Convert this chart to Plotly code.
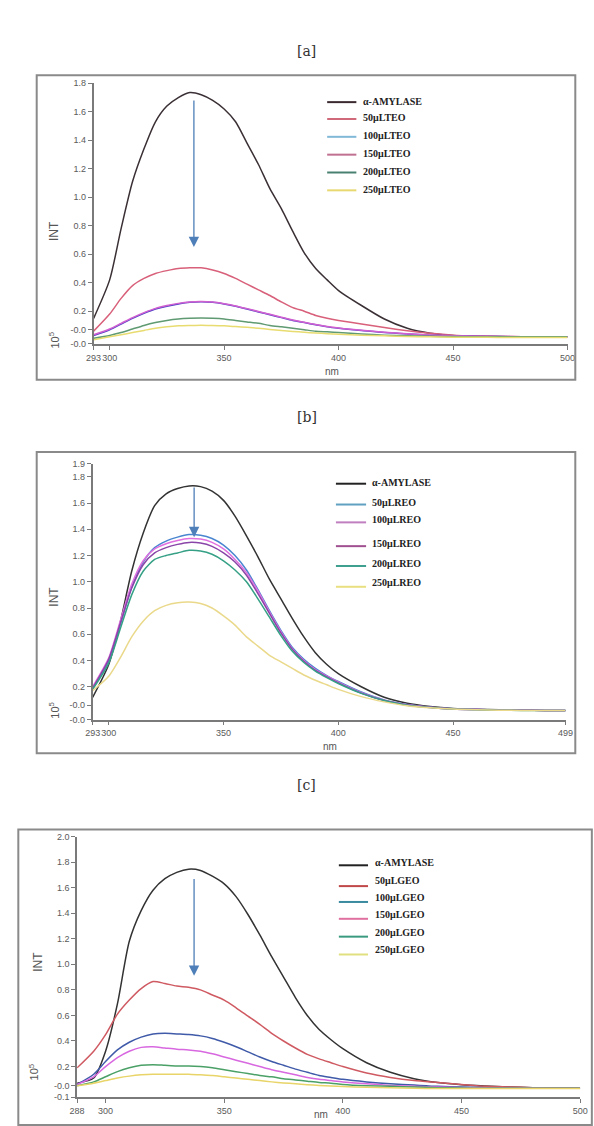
import plotly.graph_objects as go

W, H = 594, 1126

# ---- data: fluorescence emission spectra (INT x10^5 vs wavelength, nm) ----
WL_A = [293, 300, 305, 310, 315, 320, 325, 330, 335, 340, 345, 350, 355, 360, 365, 370,
        375, 380, 385, 390, 395, 400, 410, 420, 430, 440, 450, 460, 470, 480, 490, 500]
AMY_A = [0.15, 0.42, 0.78, 1.11, 1.34, 1.53, 1.64, 1.70, 1.735, 1.72, 1.68, 1.62, 1.53, 1.38, 1.23, 1.06,
         0.92, 0.76, 0.61, 0.50, 0.42, 0.345, 0.24, 0.145, 0.08, 0.045, 0.03, 0.025, 0.022, 0.02, 0.02, 0.02]
TEO_50 = [0.06, 0.18, 0.29, 0.38, 0.43, 0.465, 0.485, 0.50, 0.505, 0.505, 0.49, 0.465, 0.43, 0.39, 0.35, 0.31,
          0.265, 0.225, 0.20, 0.17, 0.15, 0.135, 0.11, 0.085, 0.063, 0.045, 0.032, 0.026, 0.023, 0.021, 0.02, 0.02]
TEO_100 = [0.03, 0.07, 0.11, 0.15, 0.185, 0.215, 0.235, 0.25, 0.262, 0.266, 0.262, 0.25, 0.235, 0.215, 0.195, 0.175,
           0.155, 0.135, 0.12, 0.105, 0.09, 0.08, 0.065, 0.05, 0.04, 0.032, 0.028, 0.024, 0.022, 0.021, 0.02, 0.02]
TEO_150 = [0.035, 0.075, 0.115, 0.155, 0.19, 0.22, 0.24, 0.255, 0.265, 0.268, 0.264, 0.252, 0.237, 0.218, 0.198, 0.178,
           0.158, 0.138, 0.122, 0.107, 0.093, 0.082, 0.066, 0.052, 0.041, 0.033, 0.028, 0.025, 0.023, 0.021, 0.02, 0.02]
TEO_200 = [0.01, 0.03, 0.05, 0.075, 0.10, 0.12, 0.135, 0.145, 0.15, 0.152, 0.15, 0.145, 0.135, 0.125, 0.115, 0.10,
           0.09, 0.08, 0.07, 0.06, 0.055, 0.05, 0.04, 0.032, 0.027, 0.024, 0.022, 0.02, 0.02, 0.02, 0.02, 0.02]
TEO_250 = [0.0, 0.02, 0.035, 0.05, 0.065, 0.08, 0.09, 0.097, 0.10, 0.102, 0.10, 0.097, 0.092, 0.087, 0.08, 0.072,
           0.065, 0.058, 0.052, 0.047, 0.042, 0.038, 0.032, 0.027, 0.023, 0.02, 0.018, 0.017, 0.016, 0.016, 0.016, 0.016]

WL_B = [293, 300, 305, 310, 315, 320, 325, 330, 335, 340, 345, 350, 355, 360, 365, 370,
        375, 380, 385, 390, 395, 400, 410, 420, 430, 440, 450, 460, 470, 480, 490, 499]
AMY_B = [0.12, 0.37, 0.69, 1.08, 1.37, 1.58, 1.67, 1.71, 1.73, 1.725, 1.69, 1.62, 1.50, 1.35, 1.19, 1.02,
         0.87, 0.72, 0.58, 0.46, 0.37, 0.30, 0.20, 0.12, 0.075, 0.05, 0.035, 0.028, 0.025, 0.022, 0.02, 0.02]
REO_50 = [0.19, 0.40, 0.67, 0.96, 1.15, 1.26, 1.31, 1.34, 1.36, 1.355, 1.33, 1.28, 1.20, 1.09, 0.94, 0.78,
          0.63, 0.50, 0.41, 0.34, 0.285, 0.24, 0.16, 0.10, 0.065, 0.045, 0.032, 0.027, 0.024, 0.022, 0.02, 0.02]
REO_100 = [0.20, 0.42, 0.70, 0.98, 1.16, 1.25, 1.29, 1.315, 1.33, 1.325, 1.30, 1.25, 1.17, 1.07, 0.93, 0.77,
           0.62, 0.49, 0.40, 0.33, 0.28, 0.235, 0.155, 0.098, 0.063, 0.044, 0.031, 0.026, 0.023, 0.021, 0.02, 0.02]
REO_150 = [0.19, 0.41, 0.68, 0.95, 1.13, 1.22, 1.26, 1.285, 1.30, 1.295, 1.27, 1.22, 1.15, 1.05, 0.91, 0.76,
           0.61, 0.485, 0.395, 0.325, 0.275, 0.23, 0.152, 0.096, 0.062, 0.043, 0.031, 0.026, 0.023, 0.021, 0.02, 0.02]
REO_200 = [0.18, 0.38, 0.64, 0.90, 1.08, 1.17, 1.20, 1.22, 1.24, 1.235, 1.21, 1.16, 1.09, 1.00, 0.87, 0.73,
           0.59, 0.47, 0.385, 0.32, 0.27, 0.225, 0.15, 0.095, 0.06, 0.042, 0.03, 0.025, 0.022, 0.02, 0.02, 0.02]
REO_250 = [0.17, 0.28, 0.42, 0.58, 0.70, 0.78, 0.82, 0.84, 0.845, 0.835, 0.80, 0.74, 0.67, 0.58, 0.51, 0.44,
           0.39, 0.34, 0.29, 0.25, 0.215, 0.18, 0.125, 0.085, 0.055, 0.04, 0.03, 0.025, 0.022, 0.02, 0.02, 0.02]

WL_C = [288, 295, 300, 305, 310, 315, 320, 325, 330, 335, 340, 345, 350, 355, 360, 365, 370,
        375, 380, 385, 390, 395, 400, 410, 420, 430, 440, 450, 460, 470, 480, 490, 500]
AMY_C = [0.07, 0.11, 0.32, 0.69, 1.18, 1.42, 1.58, 1.67, 1.72, 1.745, 1.735, 1.69, 1.63, 1.53, 1.39, 1.23, 1.06,
         0.90, 0.74, 0.60, 0.49, 0.41, 0.34, 0.23, 0.155, 0.105, 0.075, 0.058, 0.048, 0.04, 0.035, 0.032, 0.03]
GEO_50 = [0.19, 0.32, 0.45, 0.61, 0.72, 0.81, 0.865, 0.85, 0.83, 0.82, 0.80, 0.76, 0.72, 0.66, 0.595, 0.53, 0.46,
          0.40, 0.345, 0.295, 0.26, 0.23, 0.20, 0.15, 0.115, 0.09, 0.075, 0.06, 0.045, 0.04, 0.035, 0.032, 0.03]
GEO_100 = [0.06, 0.14, 0.24, 0.33, 0.39, 0.43, 0.455, 0.46, 0.455, 0.45, 0.44, 0.42, 0.39, 0.355, 0.315, 0.275, 0.24,
           0.21, 0.18, 0.155, 0.13, 0.115, 0.10, 0.08, 0.065, 0.055, 0.045, 0.04, 0.035, 0.032, 0.03, 0.03, 0.03]
GEO_150 = [0.06, 0.12, 0.20, 0.27, 0.32, 0.35, 0.355, 0.345, 0.335, 0.33, 0.32, 0.30, 0.275, 0.25, 0.225, 0.20, 0.175,
           0.155, 0.135, 0.115, 0.10, 0.09, 0.08, 0.065, 0.052, 0.045, 0.04, 0.035, 0.032, 0.03, 0.03, 0.03, 0.03]
GEO_200 = [0.05, 0.08, 0.12, 0.16, 0.19, 0.21, 0.215, 0.21, 0.205, 0.205, 0.20, 0.19, 0.175, 0.16, 0.145, 0.13, 0.12,
           0.105, 0.095, 0.085, 0.075, 0.07, 0.06, 0.05, 0.045, 0.04, 0.035, 0.032, 0.03, 0.03, 0.03, 0.03, 0.03]
GEO_250 = [0.05, 0.07, 0.09, 0.11, 0.125, 0.135, 0.14, 0.14, 0.14, 0.14, 0.135, 0.13, 0.12, 0.11, 0.10, 0.09, 0.08,
           0.072, 0.065, 0.058, 0.052, 0.048, 0.044, 0.038, 0.034, 0.03, 0.028, 0.028, 0.028, 0.028, 0.028, 0.028, 0.028]

NAMES_A = ["α-AMYLASE", "50μLTEO", "100μLTEO", "150μLTEO", "200μLTEO", "250μLTEO"]
NAMES_B = ["α-AMYLASE", "50μLREO", "100μLREO", "150μLREO", "200μLREO", "250μLREO"]
NAMES_C = ["α-AMYLASE", "50μLGEO", "100μLGEO", "150μLGEO", "200μLGEO", "250μLGEO"]

XTICKS_A = [293, 300, 350, 400, 450, 500]
XTICKS_B = [293, 300, 350, 400, 450, 499]
XTICKS_C = [288, 300, 350, 400, 450, 500]
YTICKS_A = [1.8, 1.6, 1.4, 1.2, 1.0, 0.8, 0.6, 0.4, 0.2, 0.07, -0.03]
YTEXT_A = ["1.8", "1.6", "1.4", "1.2", "1.0", "0.8", "0.6", "0.4", "0.2", "-0.0", "-0.0"]
YTICKS_B = [1.9, 1.8, 1.6, 1.4, 1.2, 1.0, 0.8, 0.6, 0.4, 0.2, 0.06, -0.05]
YTEXT_B = ["1.9", "1.8", "1.6", "1.4", "1.2", "1.0", "0.8", "0.6", "0.4", "0.2", "-0.0", "-0.0"]
YTICKS_C = [2.0, 1.8, 1.6, 1.4, 1.2, 1.0, 0.8, 0.6, 0.4, 0.2, 0.05, -0.04]
YTEXT_C = ["2.0", "1.8", "1.6", "1.4", "1.2", "1.0", "0.8", "0.6", "0.4", "0.2", "-0.0", "-0.1"]


def px(x):
    return x / W


def py(y):
    return 1 - y / H


fig = go.Figure()
shapes, annos = [], []

AXIS_GREY = "#7a7a7a"
TICK_FONT = dict(family="Liberation Sans", size=9, color="#5a5a5a")


def panel(idx, title, wl, series, names, line_cols, leg_cols, xr, yr, xdom, ydom,
          xticks, yticks, ytext, frame, title_xy, int_xy, exp_xy, nm_xy,
          leg_rows, leg_line_rows, leg_x, arrow):
    sfx = "" if idx == 1 else str(idx)
    for vals, name, col in zip(series, names, line_cols):
        fig.add_trace(go.Scatter(
            x=wl, y=vals, name=name, mode="lines", showlegend=False,
            line=dict(color=col, width=1.5, shape="spline", smoothing=0.7),
            xaxis="x" + sfx, yaxis="y" + sfx))
    fig.update_layout(**{
        "xaxis" + sfx: dict(domain=[px(xdom[0]), px(xdom[1])], range=xr, anchor="y" + sfx,
                           showline=True, linecolor=AXIS_GREY, linewidth=1.5,
                           ticks="outside", ticklen=4, tickcolor=AXIS_GREY, tickangle=0,
                           tickvals=xticks, ticktext=[str(t) for t in xticks],
                           tickfont=TICK_FONT, showgrid=False, zeroline=False),
        "yaxis" + sfx: dict(domain=[py(ydom[1]), py(ydom[0])], range=yr, anchor="x" + sfx,
                           showline=True, linecolor=AXIS_GREY, linewidth=1.5,
                           ticks="outside", ticklen=4, tickcolor=AXIS_GREY, tickangle=0,
                           tickvals=yticks, ticktext=ytext,
                           tickfont=TICK_FONT, showgrid=False, zeroline=False),
    })
    # outer frame
    shapes.append(dict(type="rect", xref="paper", yref="paper",
                       x0=px(frame[0]), x1=px(frame[2]), y0=py(frame[3]), y1=py(frame[1]),
                       line=dict(color="#8a8a8a", width=2)))
    annos.append(dict(text=title, x=px(title_xy[0]), y=py(title_xy[1]), xref="paper", yref="paper",
                      showarrow=False, font=dict(family="DejaVu Serif", size=14, color="#333")))
    annos.append(dict(text="INT", x=px(int_xy[0]), y=py(int_xy[1]), xref="paper", yref="paper",
                      showarrow=False, textangle=-90,
                      font=dict(family="Liberation Sans", size=12, color="#555")))
    annos.append(dict(text="10<sup>5</sup>", x=px(exp_xy[0]), y=py(exp_xy[1]), xref="paper", yref="paper",
                      showarrow=False, textangle=-90,
                      font=dict(family="Liberation Sans", size=11, color="#555")))
    annos.append(dict(text="nm", x=px(nm_xy[0]), y=py(nm_xy[1]), xref="paper", yref="paper",
                      yanchor="top", showarrow=False,
                      font=dict(family="Liberation Sans", size=10, color="#555")))
    # legend key
    for name, col, ty, ly in zip(names, leg_cols, leg_rows, leg_line_rows):
        shapes.append(dict(type="line", xref="paper", yref="paper",
                           x0=px(leg_x[0]), x1=px(leg_x[1]), y0=py(ly), y1=py(ly),
                           line=dict(color=col, width=2)))
        annos.append(dict(text="<b>" + name + "</b>", x=px(leg_x[2]), y=py(ty), xref="paper", yref="paper",
                          xanchor="left", yanchor="middle", showarrow=False,
                          font=dict(family="Liberation Serif", size=10, color="#222")))
    # quenching arrow
    ax_x, y_top, y_tip = arrow
    annos.append(dict(text="", x=ax_x, y=y_tip, ax=ax_x, ay=y_top,
                      xref="x" + sfx, yref="y" + sfx, axref="x" + sfx, ayref="y" + sfx,
                      showarrow=True, arrowhead=2, arrowsize=1.6, arrowwidth=1.3,
                      arrowcolor="#4f7fb8"))


panel(1, "[a]", WL_A, [AMY_A, TEO_50, TEO_100, TEO_150, TEO_200, TEO_250], NAMES_A,
      ["#3a3035", "#d8607a", "#5040c8", "#d060d0", "#5f9a72", "#e8dc70"],
      ["#3a2a30", "#d06a7a", "#80b8d8", "#c07090", "#4a8070", "#e8d870"],
      [293, 500], [-0.03, 1.8], (88, 575), (79, 342),
      XTICKS_A, YTICKS_A, YTEXT_A, (29.5, 71, 583, 378), (307, 36), (38, 216), (38, 327), (333, 362),
      [97, 114, 132, 150, 168, 186], [98, 115, 133, 151, 169, 187], (328, 358, 363),
      (336.8, 1.69, 0.65))

panel(2, "[b]", WL_B, [AMY_B, REO_50, REO_100, REO_150, REO_200, REO_250], NAMES_B,
      ["#333333", "#4a86d0", "#e070e0", "#8a45a8", "#35a085", "#ead98a"],
      ["#222222", "#60a0c0", "#c080c0", "#a05090", "#40a090", "#e8e080"],
      [293, 499], [-0.05, 1.9], (87, 573), (462.75, 721),
      XTICKS_B, YTICKS_B, YTEXT_B, (29.5, 451, 583, 755), (307, 416), (38, 597), (38, 711), (331, 741),
      [482, 502, 519, 543, 563, 583], [483, 504, 522, 546, 566, 587], (337, 368, 372),
      (337.2, 1.73, 1.34))

panel(3, "[c]", WL_C, [AMY_C, GEO_50, GEO_100, GEO_150, GEO_200, GEO_250], NAMES_C,
      ["#333333", "#cf5a62", "#3f5aa8", "#d868e0", "#4aa066", "#e8d468"],
      ["#222222", "#c04848", "#3a8aa0", "#e070a0", "#3a9a80", "#e0e080"],
      [288, 500], [-0.04, 2.0], (71, 588), (839, 1102),
      XTICKS_C, YTICKS_C, YTEXT_C, (10.6, 832, 600, 1130), (307, 797), (22, 977), (17, 1087), (322, 1112),
      [865, 883, 900, 918, 936, 953], [868, 889, 905, 922, 940, 958], (340, 370, 375),
      (337.3, 1.68, 0.91))

fig.update_layout(
    width=W, height=H, margin=dict(l=0, r=0, t=0, b=0),
    paper_bgcolor="white", plot_bgcolor="white",
    shapes=shapes, annotations=annos, showlegend=False,
)

fig.write_html("out.html")
